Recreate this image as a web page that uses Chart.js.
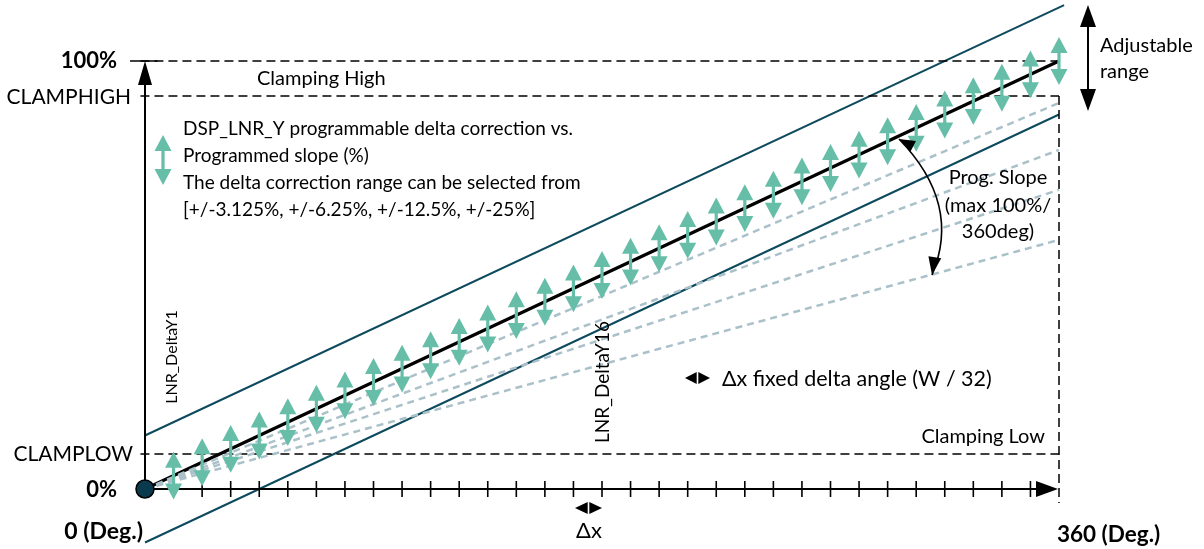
<!DOCTYPE html>
<html><head><meta charset="utf-8">
<script src="https://cdn.jsdelivr.net/npm/chart.js@4.4.1/dist/chart.umd.min.js"></script>
<style>html,body{margin:0;padding:0;background:#fff;overflow:hidden}canvas{display:block}</style>
</head><body>
<canvas id="c" width="1204" height="549"></canvas>
<script>
// ---- data ----
const correctionAngles = [11.25,22.5,33.75,45,56.25,67.5,78.75,90,101.25,112.5,123.75,135,146.25,157.5,168.75,180,191.25,202.5,213.75,225,236.25,247.5,258.75,270,281.25,292.5,303.75,315,326.25,337.5,348.75,360];
const correctionCenters = [3.125,6.25,9.375,12.5,15.625,18.75,21.875,25,28.125,31.25,34.375,37.5,40.625,43.75,46.875,50,53.125,56.25,59.375,62.5,65.625,68.75,71.875,75,78.125,81.25,84.375,87.5,90.625,93.75,96.875,100];
const deltaSpan = 5.6;
const tickAngles = [11.25,22.5,33.75,45,56.25,67.5,78.75,90,101.25,112.5,123.75,135,146.25,157.5,168.75,180,191.25,202.5,213.75,225,236.25,247.5,258.75,270,281.25,292.5,303.75,315,326.25,337.5,348.75];
const progX = [0, 360], progY = [0, 100];
const upperX = [0, 362], upperY = [12.5, 113.06];
const lowerX = [0, 360], lowerY = [-12.5, 87.5];
const slopeEnds = [90.2, 79.2, 69.9, 58.2];
const levelFull = 100, clampHigh = 91.8, clampLow = 8.2;
const yAxisLabels = ['100%', 'CLAMPHIGH', 'CLAMPLOW', '0%'];
const xAxisLabels = ['0 (Deg.)', '360 (Deg.)'];

const pts = (xs, ys) => xs.map((x, i) => ({x, y: ys[i]}));
const TEAL = '#66bea9', DARK = '#0e4a5e', GREY = '#abc1ca';
const F = 'Lato, "Open Sans", sans-serif';

const datasets = [];
slopeEnds.forEach(v => datasets.push({data: pts([0,360],[0,v]), borderColor: GREY, borderWidth: 2.5, borderDash: [7,5]}));
datasets.push({data: pts([-1.8,360],[levelFull,levelFull]), borderColor:'#000', borderWidth:1.5, borderDash:[9,5]});
datasets.push({data: pts([-5.9,5],[levelFull,levelFull]), borderColor:'#000', borderWidth:1.5});
datasets.push({data: pts([-1.8,360],[clampHigh,clampHigh]), borderColor:'#000', borderWidth:1.5, borderDash:[9,5]});
datasets.push({data: pts([-1.8,360],[clampLow,clampLow]), borderColor:'#000', borderWidth:1.5, borderDash:[9,5]});
datasets.push({data: pts([360,360],[clampHigh,-3.3]), borderColor:'#000', borderWidth:1.5, borderDash:[9,5]});
datasets.push({data: pts(upperX, upperY), borderColor: DARK, borderWidth: 2});
datasets.push({data: pts(lowerX, lowerY), borderColor: DARK, borderWidth: 2});
datasets.push({data: pts(progX, progY), borderColor: '#000', borderWidth: 3.2});
datasets.forEach(d => { d.showLine = true; d.pointRadius = 0; d.fill = false; });

function tri(ctx, tx, ty, bx1, by1, bx2, by2, color) {
  ctx.beginPath(); ctx.moveTo(tx, ty); ctx.lineTo(bx1, by1); ctx.lineTo(bx2, by2); ctx.closePath();
  ctx.fillStyle = color; ctx.fill();
}
function vArrow(ctx, x, yTop, yBot, head, hw, lw, color) {
  ctx.strokeStyle = color; ctx.lineWidth = lw;
  ctx.beginPath(); ctx.moveTo(x, yTop + head - 1); ctx.lineTo(x, yBot - head + 1); ctx.stroke();
  tri(ctx, x, yTop, x - hw, yTop + head, x + hw, yTop + head, color);
  tri(ctx, x, yBot, x - hw, yBot - head, x + hw, yBot - head, color);
}
function hSmallArrow(ctx, x1, x2, y) {
  const m = (x1 + x2) / 2;
  tri(ctx, x1, y, m - 0.8, y - 6, m - 0.8, y + 6, '#000');
  tri(ctx, x2, y, m + 0.8, y - 6, m + 0.8, y + 6, '#000');
}
function txt(ctx, s, x, y, size, opts = {}) {
  ctx.save();
  ctx.font = (opts.bold ? 'bold ' : '') + size + 'px ' + F;
  ctx.fillStyle = '#000'; ctx.textAlign = opts.align || 'left'; ctx.textBaseline = 'middle';
  ctx.translate(x, y);
  if (opts.rot) ctx.rotate(opts.rot);
  ctx.fillText(s, 0, 0);
  ctx.restore();
}

const overlay = {
  id: 'overlay',
  afterDatasetsDraw(chart) {
    const ctx = chart.ctx, X = chart.scales.x, Y = chart.scales.y;
    const x0 = X.getPixelForValue(0), y0 = Y.getPixelForValue(0);
    const x360 = X.getPixelForValue(360), y100 = Y.getPixelForValue(100);
    ctx.save();
    // axes
    ctx.strokeStyle = '#000'; ctx.lineWidth = 2;
    ctx.beginPath(); ctx.moveTo(x0, y0); ctx.lineTo(x0, y100 + 20); ctx.stroke();
    tri(ctx, x0, y100, x0 - 7, y100 + 24, x0 + 7, y100 + 24, '#000');
    ctx.beginPath(); ctx.moveTo(x0, y0); ctx.lineTo(x360 - 20, y0); ctx.stroke();
    tri(ctx, x360 - 1, y0, x360 - 23, y0 - 8, x360 - 23, y0 + 8, '#000');
    ctx.lineWidth = 1.6;
    tickAngles.forEach(a => {
      const px = X.getPixelForValue(a);
      ctx.beginPath(); ctx.moveTo(px, y0 - 8); ctx.lineTo(px, y0 + 8); ctx.stroke();
    });
    // teal correction arrows
    correctionAngles.forEach((a, i) => {
      const px = X.getPixelForValue(a);
      vArrow(ctx, px, Y.getPixelForValue(correctionCenters[i] + deltaSpan), Y.getPixelForValue(correctionCenters[i] - deltaSpan), 16, 8.5, 3.2, TEAL);
    });
    // origin
    ctx.beginPath(); ctx.arc(x0, y0, 9, 0, Math.PI * 2); ctx.fillStyle = '#0a3a4e'; ctx.fill();
    ctx.lineWidth = 1.5; ctx.strokeStyle = '#000'; ctx.stroke();
    // legend arrow
    vArrow(ctx, 163, 135, 185, 16, 8.5, 3.2, TEAL);
    // adjustable range arrow
    vArrow(ctx, 1088, 5, 111, 22, 8, 2, '#000');
    // prog slope curve
    const s = {x: 899, y: 139}, c = {x: 962, y: 204}, e = {x: 932, y: 275};
    ctx.strokeStyle = '#000'; ctx.lineWidth = 1.6;
    ctx.beginPath(); ctx.moveTo(s.x, s.y); ctx.quadraticCurveTo(c.x, c.y, e.x, e.y); ctx.stroke();
    const head = (tip, from, len, hw) => {
      const dx = tip.x - from.x, dy = tip.y - from.y, L = Math.hypot(dx, dy);
      const ux = dx / L, uy = dy / L, bx = tip.x - ux * len, by = tip.y - uy * len;
      tri(ctx, tip.x, tip.y, bx - uy * hw, by + ux * hw, bx + uy * hw, by - ux * hw, '#000');
    };
    head(s, {x: 920, y: 150}, 16, 6);
    head(e, {x: 936, y: 250}, 18, 6.5);
    // small delta-x arrows
    hSmallArrow(ctx, 685, 710, 378);
    hSmallArrow(ctx, 575, 602, 508);
    // texts
    txt(ctx, yAxisLabels[0], 117, 61, 22, {bold: true, align: 'right'});
    txt(ctx, yAxisLabels[1], 131, 97, 21, {align: 'right'});
    txt(ctx, yAxisLabels[2], 133, 454, 21, {align: 'right'});
    txt(ctx, yAxisLabels[3], 117, 490, 22, {bold: true, align: 'right'});
    txt(ctx, xAxisLabels[0], 143, 532, 23, {bold: true, align: 'right'});
    txt(ctx, xAxisLabels[1], 1057, 535, 22.5, {bold: true});
    txt(ctx, 'Clamping High', 257, 79, 20);
    txt(ctx, 'Clamping Low', 1045, 437, 20, {align: 'right'});
    txt(ctx, 'DSP_LNR_Y programmable delta correction vs.', 183, 129, 19);
    txt(ctx, 'Programmed slope (%)', 183, 156, 19);
    txt(ctx, 'The delta correction range can be selected from', 183, 183, 19);
    txt(ctx, '[+/-3.125%, +/-6.25%, +/-12.5%, +/-25%]', 183, 210, 19);
    txt(ctx, '\u0394x fixed delta angle (W / 32)', 722, 379, 21.5);
    txt(ctx, '\u0394x', 589, 531, 22, {align: 'center'});
    txt(ctx, 'Prog. Slope', 998, 178, 20, {align: 'center'});
    txt(ctx, '(max 100%/', 998, 206, 20, {align: 'center'});
    txt(ctx, '360deg)', 998, 232, 20, {align: 'center'});
    txt(ctx, 'Adjustable', 1100, 46, 20);
    txt(ctx, 'range', 1100, 72, 20);
    txt(ctx, 'LNR_DeltaY1', 172, 357, 16, {align: 'center', rot: -Math.PI / 2});
    txt(ctx, 'LNR_DeltaY16', 603, 382, 19, {align: 'center', rot: -Math.PI / 2});
    ctx.restore();
  }
};

new Chart(document.getElementById('c'), {
  type: 'scatter',
  data: {datasets},
  options: {
    responsive: false, animation: false, devicePixelRatio: 1,
    layout: {padding: 0},
    plugins: {legend: {display: false}, tooltip: {enabled: false}},
    scales: {
      x: {type: 'linear', display: false, min: -57.11, max: 417.11},
      y: {type: 'linear', display: false, min: -14.02, max: 114.25}
    }
  },
  plugins: [overlay]
});
</script>
</body></html>
